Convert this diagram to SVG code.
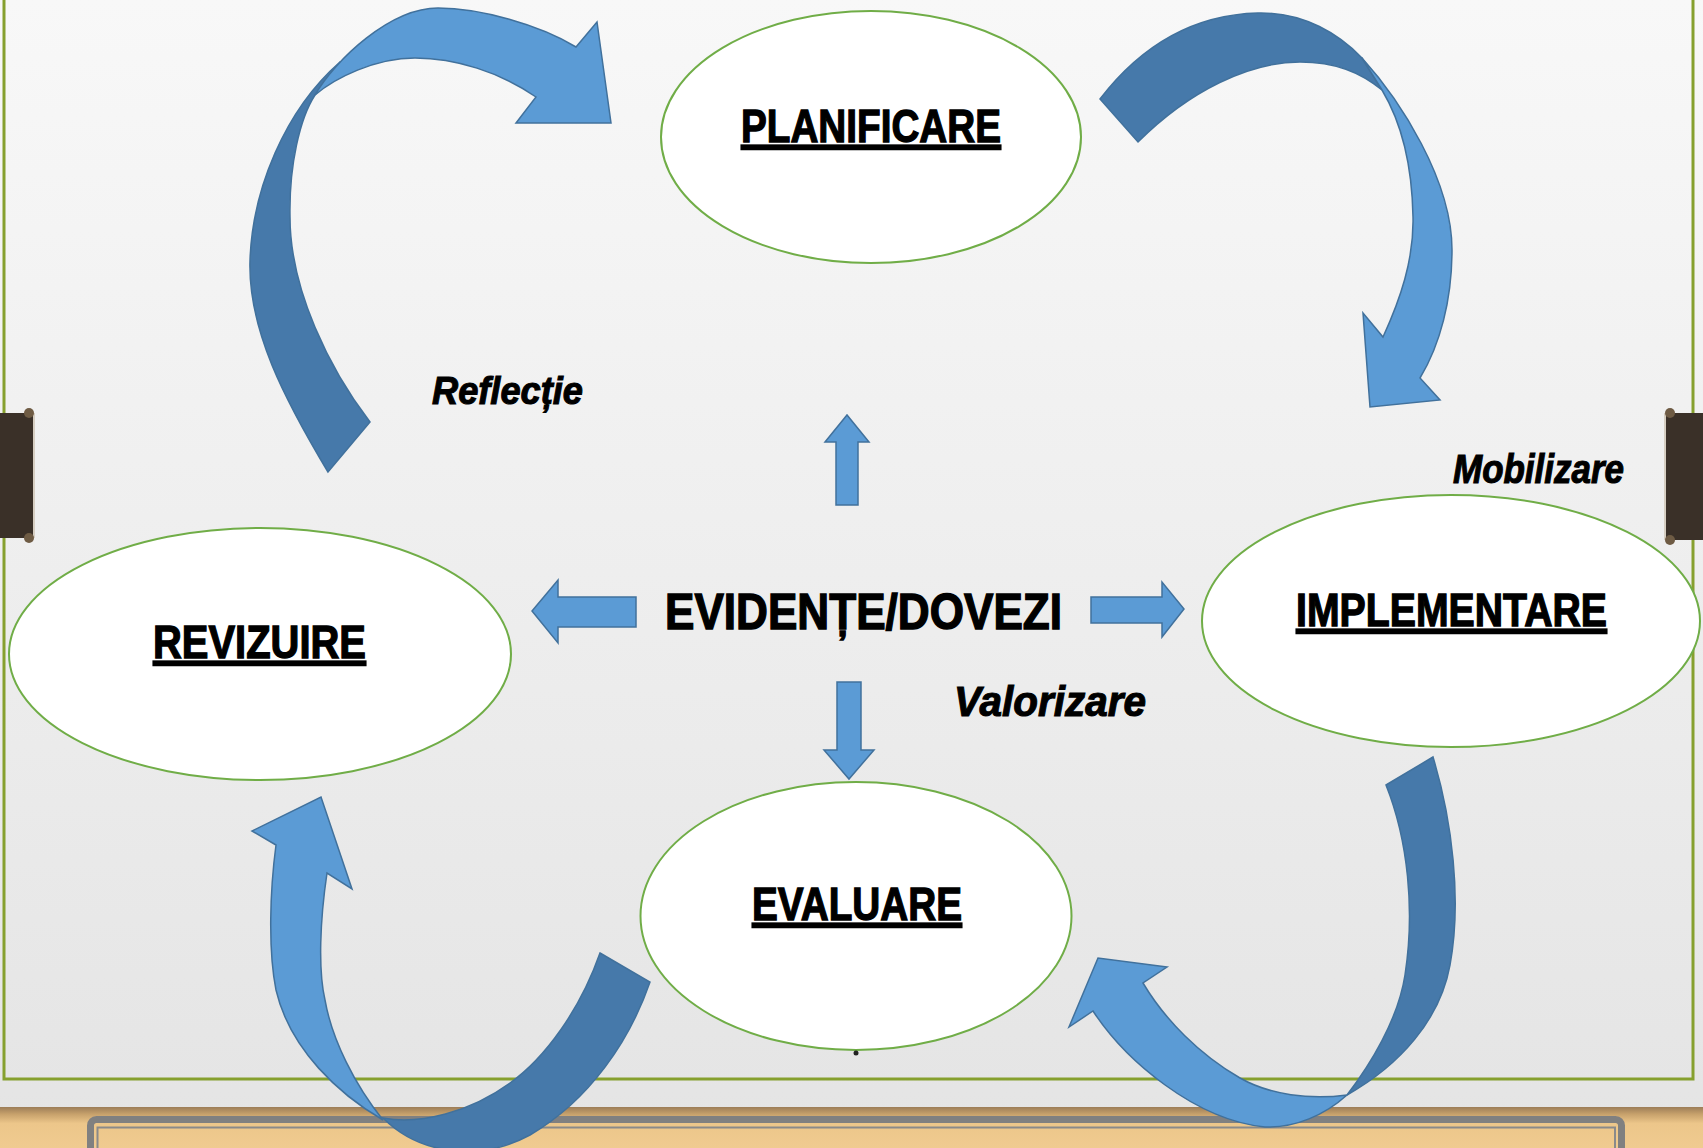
<svg xmlns="http://www.w3.org/2000/svg" width="1703" height="1148" viewBox="0 0 1703 1148">
<defs>
<linearGradient id="bg" x1="0" y1="0" x2="0" y2="1">
<stop offset="0" stop-color="#f8f8f8"/>
<stop offset="1" stop-color="#e4e4e4"/>
</linearGradient>
<linearGradient id="wood" x1="0" y1="1107" x2="0" y2="1148" gradientUnits="userSpaceOnUse">
<stop offset="0" stop-color="#9c7d58"/>
<stop offset="0.18" stop-color="#c8a26c"/>
<stop offset="0.4" stop-color="#ecc68a"/>
<stop offset="1" stop-color="#f0cb90"/>
</linearGradient>
<style>
.ell{fill:#ffffff;stroke:#70ad47;stroke-width:2}
.title{font-family:"Liberation Sans",Arial,sans-serif;font-weight:bold;font-size:46px;fill:#000;stroke:#000;stroke-width:1.3;text-decoration:underline}
.center{font-family:"Liberation Sans",Arial,sans-serif;font-weight:bold;font-size:50px;fill:#000;stroke:#000;stroke-width:1.4}
.lbl{font-family:"Liberation Sans",Arial,sans-serif;font-weight:bold;font-style:italic;fill:#000;stroke:#000;stroke-width:1.1}
.lt{fill:#5b9bd5;stroke:#41719c;stroke-width:1.5;stroke-linejoin:miter}
.dk{fill:#4679aa;stroke:#41719c;stroke-width:1.5}
.tab{fill:#3a3028}
.knob{fill:#6e5b44}
</style>
</defs>
<rect x="0" y="0" width="1703" height="1148" fill="url(#bg)"/>
<rect x="4" y="-5" width="1689" height="1084" fill="none" stroke="#86a02e" stroke-width="3"/>
<g id="bottom-strip">
<rect x="0" y="1107" width="1703" height="41" fill="url(#wood)"/>
<rect x="90.5" y="1119.5" width="1531" height="60" rx="6" fill="none" stroke="#808080" stroke-width="7"/>
<rect x="97.5" y="1127.5" width="1517.5" height="40" fill="none" stroke="#8a8a8a" stroke-width="2"/>
</g>
<g id="side-tabs">
<rect class="tab" x="0" y="413" width="33" height="125"/>
<line x1="34" y1="413" x2="34" y2="538" stroke="#d6cec2" stroke-width="2"/>
<circle class="knob" cx="29" cy="413" r="5"/>
<circle class="knob" cx="29" cy="538" r="5"/>
<rect class="tab" x="1666" y="413" width="37" height="127"/>
<line x1="1665" y1="413" x2="1665" y2="540" stroke="#d6cec2" stroke-width="2"/>
<circle class="knob" cx="1670" cy="413" r="5"/>
<circle class="knob" cx="1670" cy="540" r="5"/>
</g>
<g id="node-planificare">
<ellipse class="ell" cx="871" cy="137" rx="210" ry="126"/>
<text class="title" x="741" y="142" textLength="260" lengthAdjust="spacingAndGlyphs">PLANIFICARE</text>
</g>
<g id="node-revizuire">
<ellipse class="ell" cx="260" cy="654" rx="251" ry="126"/>
<text class="title" x="153" y="658" textLength="213" lengthAdjust="spacingAndGlyphs">REVIZUIRE</text>
</g>
<g id="node-implementare">
<ellipse class="ell" cx="1451" cy="621" rx="249" ry="126"/>
<text class="title" x="1296" y="626" textLength="311" lengthAdjust="spacingAndGlyphs">IMPLEMENTARE</text>
</g>
<g id="node-evaluare">
<ellipse class="ell" cx="856" cy="916" rx="215.5" ry="134"/>
<text class="title" x="752" y="920" textLength="210" lengthAdjust="spacingAndGlyphs">EVALUARE</text>
<circle cx="856" cy="1053" r="2.5" fill="#222"/>
</g>
<g id="node-evidente">
<text class="center" x="665" y="629" textLength="397" lengthAdjust="spacingAndGlyphs">EVIDENȚE/DOVEZI</text>
</g>
<g id="connectors">
<path class="lt" d="M836,505 L836,442 L825,442 L847,415 L869,442 L858,442 L858,505 Z"/>
<path class="lt" d="M837,682 L861,682 L861,750 L874,750 L849,779 L824,750 L837,750 Z"/>
<path class="lt" d="M636,597 L636,627 L558,627 L558,643 L532,611 L558,580 L558,597 Z"/>
<path class="lt" d="M1091,597 L1162,597 L1162,582 L1184,609 L1162,637 L1162,623 L1091,623 Z"/>
<path class="dk" d="M328,472 C285,400 248,330 250,261 C252,190 285,110 340,62 L315,95 C300,118 289,165 290,217 C290,290 330,370 370,422 Z"/>
<path class="lt" d="M315,95 C335,60 390,8 438,8 C480,8 540,25 576,47 L597,22 L611,123 L516,123 L536,97 C500,72 455,58 415,58 C375,58 335,78 315,95 Z"/>
<path class="dk" d="M1100,99 C1130,60 1180,15 1258,13 C1305,12 1340,35 1362,58 L1382,90 C1360,72 1335,62 1300,62 C1250,62 1190,90 1138,142 Z"/>
<path class="lt" d="M1362,58 C1400,100 1452,180 1452,250 C1452,300 1440,345 1420,378 L1440,400 L1370,407 L1363,313 L1383,337 C1400,300 1414,260 1413,217 C1412,160 1400,120 1382,90 Z"/>
<path class="dk" d="M600,953 L650,982 C630,1040 590,1100 530,1135 C480,1162 420,1155 383,1118 C420,1125 470,1112 510,1083 C545,1058 580,1010 600,953 Z"/>
<path class="lt" d="M383,1120 C340,1095 290,1050 276,990 C268,950 270,890 276,845 L252,831 L321,797 L352,889 L327,873 C320,920 318,970 325,1000 C332,1040 355,1085 383,1120 Z"/>
<path class="dk" d="M1386,785 L1433,757 C1452,820 1462,900 1450,965 C1440,1020 1400,1065 1347,1095 C1370,1065 1398,1020 1405,975 C1415,910 1408,840 1386,785 Z"/>
<path class="lt" d="M1347,1095 C1310,1100 1270,1095 1240,1078 C1200,1055 1165,1020 1143,983 L1167,967 L1098,958 L1069,1027 L1093,1011 C1125,1060 1195,1120 1265,1127 C1295,1128 1325,1115 1347,1095 Z"/>
</g>
<g id="labels">
<text class="lbl" x="432" y="404" font-size="39" textLength="151" lengthAdjust="spacingAndGlyphs">Reflecție</text>
<text class="lbl" x="1453" y="483" font-size="40" textLength="171" lengthAdjust="spacingAndGlyphs">Mobilizare</text>
<text class="lbl" x="954" y="716" font-size="42" textLength="192" lengthAdjust="spacingAndGlyphs">Valorizare</text>
</g>
</svg>
